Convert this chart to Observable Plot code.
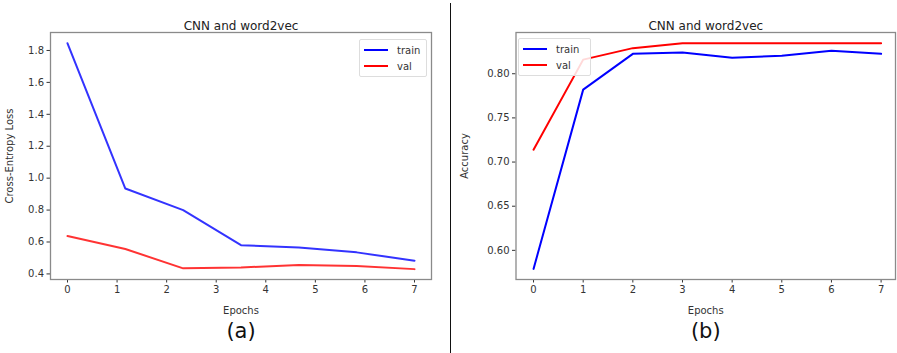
<!DOCTYPE html>
<html>
<head>
<meta charset="utf-8">
<script src="https://cdn.jsdelivr.net/npm/d3@7"></script>
<script src="https://cdn.jsdelivr.net/npm/@observablehq/plot@0.6"></script>
<style>
  html, body { margin: 0; padding: 0; background: #fff; }
  #wrap { position: relative; width: 897px; height: 353px; display: flex; overflow: hidden; font-family: "DejaVu Sans", sans-serif; }
  #divider { position: absolute; left: 449.5px; top: 3px; width: 1.8px; height: 350px; background: #111; }
  .panel { position: relative; }
  .legend { position: absolute; background: rgba(255,255,255,0.85); border: 1px solid #ddd; border-radius: 2px; font-size: 10px; color: #333; padding: 2px 4px; box-sizing: border-box; }
  .legend .row { display: flex; align-items: center; height: 16px; }
  .legend .sw { width: 24px; height: 2px; margin-right: 9px; }
</style>
</head>
<body>
<div id="wrap"></div>
<script>
// ---- data ----
const titleText = "CNN and word2vec";
const seriesNames = ["train", "val"];
const seriesColors = ["#0000ff", "#ff0000"];

// (a) loss: 7 points spread over epochs 0..7
const lossEpochs = [0, 7/6, 14/6, 3.5, 28/6, 35/6, 7];
const lossTrain = [1.845, 0.935, 0.800, 0.580, 0.565, 0.535, 0.483];
const lossVal   = [0.637, 0.556, 0.435, 0.440, 0.456, 0.449, 0.430];

// (b) accuracy: epochs 0..7
const accEpochs = [0, 1, 2, 3, 4, 5, 6, 7];
const accTrain = [0.579, 0.782, 0.8225, 0.824, 0.818, 0.8205, 0.826, 0.8225];
const accVal   = [0.714, 0.816, 0.829, 0.8345, 0.8345, 0.8345, 0.8345, 0.8345];

const epochTicks = [0, 1, 2, 3, 4, 5, 6, 7];
const lossTicks = [0.4, 0.6, 0.8, 1.0, 1.2, 1.4, 1.6, 1.8];
const accTicks = [0.60, 0.65, 0.70, 0.75, 0.80];

function toRows(xs, a, b) {
  const rows = [];
  xs.forEach((x, i) => rows.push({x, y: a[i], s: seriesNames[0]}));
  xs.forEach((x, i) => rows.push({x, y: b[i], s: seriesNames[1]}));
  return rows;
}

function panel(opts) {
  const rows = toRows(opts.xs, opts.a, opts.b);
  const p = Plot.plot({
    width: opts.width,
    height: 353,
    marginTop: 32,
    marginBottom: 74,
    marginLeft: opts.ml,
    marginRight: opts.mr,
    style: {fontFamily: "DejaVu Sans, sans-serif", fontSize: "10px", color: "#333", background: "#fff"},
    x: {domain: opts.xDomain, ticks: epochTicks, tickFormat: d3.format("d"), label: "Epochs", labelAnchor: "center", labelArrow: "none", labelOffset: 34, tickSize: 3.5, tickPadding: 3},
    y: {domain: opts.yDomain, ticks: opts.yTicks, tickFormat: opts.yFmt, label: opts.yLabel, labelAnchor: "center", labelArrow: "none", labelOffset: opts.yLabelOffset, tickSize: 3.5, tickPadding: 3},
    color: {domain: seriesNames, range: seriesColors},
    marks: [
      Plot.line(rows, {x: "x", y: "y", z: "s", stroke: "s", strokeWidth: 2, strokeOpacity: opts.opacity}),
      Plot.frame({stroke: "#8a8a8a", strokeWidth: 1.3}),
      Plot.text([titleText], {frameAnchor: "top", dy: -11, fontSize: 12, fill: "#222"}),
      Plot.text([opts.tag], {frameAnchor: "bottom", dy: 58, fontSize: 21, fill: "#111"})
    ]
  });
  const div = document.createElement("div");
  div.className = "panel";
  div.style.width = opts.width + "px";
  div.appendChild(p);
  // legend
  const lg = document.createElement("div");
  lg.className = "legend";
  lg.style.left = opts.legend[0] + "px";
  lg.style.top = opts.legend[1] + "px";
  lg.style.width = opts.legend[2] + "px";
  seriesNames.forEach((n, i) => {
    const r = document.createElement("div");
    r.className = "row";
    const sw = document.createElement("div");
    sw.className = "sw";
    sw.style.background = seriesColors[i];
    r.appendChild(sw);
    const t = document.createElement("span");
    t.textContent = n;
    r.appendChild(t);
    lg.appendChild(r);
  });
  div.appendChild(lg);
  return div;
}

const wrap = document.getElementById("wrap");
wrap.appendChild(panel({
  width: 449, ml: 50, mr: 18,
  xs: lossEpochs, a: lossTrain, b: lossVal,
  xDomain: [-0.343, 7.343], yDomain: [0.365, 1.9125],
  yTicks: lossTicks, yFmt: d3.format(".1f"), yLabel: "Cross-Entropy Loss", yLabelOffset: 45,
  tag: "(a)", legend: [359, 39, 68], opacity: 0.8
}));
wrap.appendChild(panel({
  width: 448, ml: 66.5, mr: 2,
  xs: accEpochs, a: accTrain, b: accVal,
  xDomain: [-0.353, 7.29], yDomain: [0.567, 0.8467],
  yTicks: accTicks, yFmt: d3.format(".2f"), yLabel: "Accuracy", yLabelOffset: 55,
  tag: "(b)", legend: [69, 38, 73], opacity: 1
}));
const dv = document.createElement("div");
dv.id = "divider";
wrap.appendChild(dv);
</script>
</body>
</html>
